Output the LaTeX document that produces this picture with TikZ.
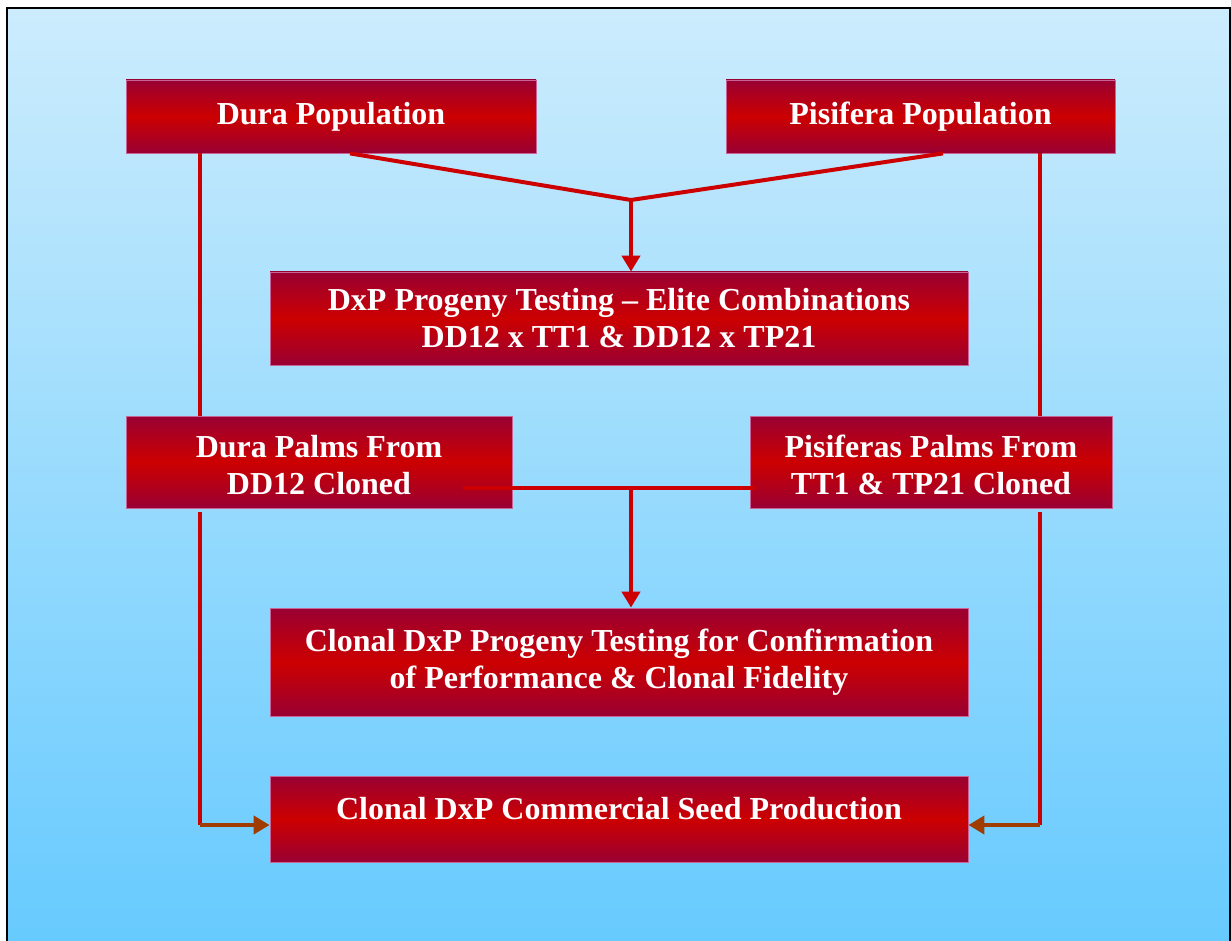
\documentclass[tikz,border=0pt]{standalone}
\usepackage{fontspec}
\setmainfont{Liberation Serif}
\usepackage{xcolor}
\usetikzlibrary{arrows.meta,positioning}

\definecolor{boxdark}{HTML}{990033}
\definecolor{boxmid}{HTML}{CC0000}
\definecolor{boxedge}{HTML}{C86496}
\definecolor{linered}{HTML}{CC0000}
\definecolor{linebrown}{HTML}{A03C00}
\definecolor{bgtop}{HTML}{CCECFD}
\definecolor{bgbottom}{HTML}{66CAFE}
\pgfdeclareverticalshading{stageshade}{100bp}{color(0bp)=(boxdark); color(25bp)=(boxdark); color(50bp)=(boxmid); color(75bp)=(boxdark); color(100bp)=(boxdark)}

\begin{document}
\begin{tikzpicture}[x=0.5pt, y=-0.5pt,
    stage/.style={rectangle, draw=boxedge, line width=0.4pt, shading=stageshade, text=white, font=\fontsize{16}{18.5}\selectfont\bfseries, align=center, inner sep=0pt},
    link/.style={draw=linered, line width=2pt},
    flow/.style={link, -{Triangle[length=8pt, width=9pt]}},
    feed/.style={draw=linebrown, line width=2pt, -{Triangle[length=8pt, width=9pt]}}]
    \useasboundingbox (0,0) rectangle (1231,941);

    % Background panel
    \path[top color=bgtop, bottom color=bgbottom, draw=black, line width=1pt] (7,8) rectangle (1230,950);

    % Parent populations
    \node[stage, minimum width=205pt, minimum height=36.5pt] (dpop) at (331,116.5) {Dura Population};
    \node[stage, minimum width=194.5pt, minimum height=36.5pt] (ppop) at (920.5,116.5) {Pisifera Population};

    % Progeny testing
    \node[stage, minimum width=349pt, minimum height=46.5pt] (prog) at (619,318.5) {DxP Progeny Testing -- Elite Combinations\\DD12 x TT1 \& DD12 x TP21};

    % Cloned palms
    \node[stage, minimum width=193pt, minimum height=46pt, text height=33pt] (dpalm) at (319,462) {Dura Palms From\\DD12 Cloned};
    \node[stage, minimum width=181pt, minimum height=46pt, text height=33pt] (ppalm) at (931,462) {Pisiferas Palms From\\TT1 \& TP21 Cloned};

    % Clonal testing and seed production
    \node[stage, minimum width=349pt, minimum height=54pt] (clonal) at (619,662) {Clonal DxP Progeny Testing for Confirmation\\of Performance \& Clonal Fidelity};
    \node[stage, minimum width=349pt, minimum height=43pt, text depth=11pt] (seed) at (619,819) {Clonal DxP Commercial Seed Production};

    % Crossing
    \coordinate (cross) at (631,200);
    \draw[link] (dpop.south -| 350,0) -- (cross);
    \draw[link] (ppop.south -| 943,0) -- (cross);
    \draw[flow] (cross) -- (prog.north -| cross);

    % Cloning lines
    \draw[link] (dpop.south -| 200,0) -- (dpalm.north -| 200,0);
    \draw[link] (ppop.south -| 1040,0) -- (ppalm.north -| 1040,0);

    % Clonal crossing
    \coordinate (jl) at (463,488);
    \coordinate (jr) at (755,488);
    \coordinate (jm) at (631,488);
    \draw[link] (jl) -- (jr);
    \draw[flow] (jm) -- (clonal.north -| jm);

    % Seed production feeds
    \coordinate (dl) at (200,825);
    \coordinate (dr) at (1040,825);
    \draw[link] (200,512) -- (dl);
    \draw[link] (1040,512) -- (dr);
    \draw[feed] (dl) -- (seed.west |- dl);
    \draw[feed] (dr) -- (seed.east |- dr);
\end{tikzpicture}
\end{document}
